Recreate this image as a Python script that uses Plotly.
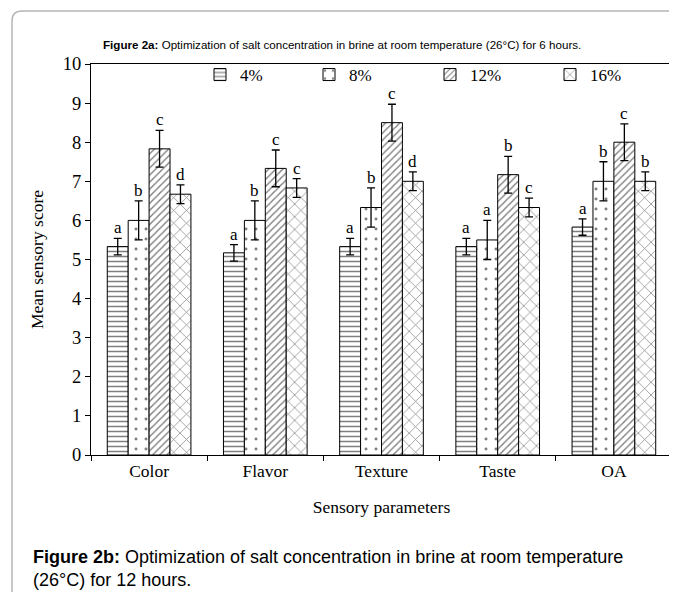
import plotly.graph_objects as go

categories = ["Color", "Flavor", "Texture", "Taste", "OA"]
series_names = ["4%", "8%", "12%", "16%"]
values = {
    "4%": [5.33, 5.17, 5.33, 5.33, 5.83],
    "8%": [6.0, 6.0, 6.33, 5.5, 7.0],
    "12%": [7.83, 7.33, 8.5, 7.17, 8.0],
    "16%": [6.67, 6.83, 7.0, 6.33, 7.0],
}
errors = {
    "4%": [0.21, 0.21, 0.21, 0.21, 0.21],
    "8%": [0.5, 0.5, 0.5, 0.5, 0.5],
    "12%": [0.47, 0.47, 0.47, 0.47, 0.47],
    "16%": [0.24, 0.24, 0.24, 0.24, 0.24],
}
letters = {
    "4%": ["a", "a", "a", "a", "a"],
    "8%": ["b", "b", "b", "a", "b"],
    "12%": ["c", "c", "c", "b", "c"],
    "16%": ["d", "c", "d", "c", "b"],
}
patterns = {
    "4%": dict(shape="-", size=5, solidity=0.3),
    "8%": dict(shape=".", size=10, solidity=0.07),
    "12%": dict(shape="/", size=5, solidity=0.28),
    "16%": dict(shape="x", size=9, solidity=0.15),
}
legend_x_px = [200, 309, 430, 550]

serif = "Liberation Serif"
sans = "Liberation Sans"

# page body has an 8px margin; figure drawn 8px smaller, coordinates relative to plot area
PLOT_L, PLOT_W, PLOT_H = 83, 581, 391
FIG_W, FIG_H = 669, 584

def px_x(px_ref):
    return (px_ref - 91) / PLOT_W

def px_y(py_ref):
    return (455 - py_ref) / PLOT_H

fig = go.Figure()
for k, name in enumerate(series_names):
    p = patterns[name]
    fig.add_trace(go.Bar(
        name=name, x=categories, y=values[name],
        legend="legend" if k == 0 else f"legend{k + 1}",
        marker=dict(color="white", line=dict(color="black", width=1),
                    pattern=dict(shape=p["shape"], size=p["size"], solidity=p["solidity"],
                                 fgcolor="black", bgcolor="white", fillmode="overlay")),
        error_y=dict(type="data", array=errors[name], color="black", thickness=1.3, width=4),
    ))

# letters above error bars
cat_w = PLOT_W / len(categories)
bargap = 0.28
bar_w = cat_w * (1 - bargap) / 4
for j, name in enumerate(series_names):
    shift = (j - 1.5) * bar_w
    for i, c in enumerate(categories):
        fig.add_annotation(x=c, y=values[name][i] + errors[name][i], text=letters[name][i],
                           showarrow=False, xshift=shift, yanchor="bottom", yshift=-1,
                           font=dict(family=serif, size=17, color="black"))

fig.add_annotation(xref="paper", yref="paper", x=px_x(342), y=px_y(44),
                   text="<b>Figure 2a:</b> Optimization of salt concentration in brine at room temperature (26°C) for 6 hours.",
                   showarrow=False, xanchor="center", yanchor="middle",
                   font=dict(family=sans, size=11.6, color="black"))

fig.add_annotation(xref="paper", yref="paper", x=px_x(31), y=px_y(568),
                   text="<b>Figure 2b:</b> Optimization of salt concentration in brine at room temperature<br>(26°C) for 12 hours.",
                   showarrow=False, xanchor="left", yanchor="middle", align="left",
                   font=dict(family=sans, size=18, color="black"))

# frame
x12, x22 = px_x(12), px_x(22)
y11, y21 = px_y(11), px_y(21)
fig.add_shape(type="path", xref="paper", yref="paper",
              path=f"M {x12},-0.5 L {x12},{y21} Q {x12},{y11} {x22},{y11} L 1.3,{y11}",
              line=dict(color="#b5b5b5", width=1.5))

legend_common = dict(orientation="h", y=px_y(57), yanchor="top", xanchor="left",
                     itemwidth=30, font=dict(family=serif, size=17, color="black"),
                     bgcolor="rgba(0,0,0,0)")

fig.update_layout(
    width=FIG_W, height=FIG_H,
    margin=dict(l=PLOT_L, r=FIG_W - PLOT_L - PLOT_W, t=56, b=FIG_H - 56 - PLOT_H),
    paper_bgcolor="white", plot_bgcolor="white",
    barmode="group", bargap=bargap, bargroupgap=0,
    showlegend=True,
    legend=dict(x=px_x(legend_x_px[0]), **legend_common),
    legend2=dict(x=px_x(legend_x_px[1]), **legend_common),
    legend3=dict(x=px_x(legend_x_px[2]), **legend_common),
    legend4=dict(x=px_x(legend_x_px[3]), **legend_common),
    font=dict(family=serif, size=17, color="black"),
    xaxis=dict(showline=True, linecolor="black", linewidth=1, mirror=True,
               ticks="outside", tickson="boundaries", ticklen=5, tickcolor="black",
               tickfont=dict(family=serif, size=17.5, color="black"),
               title=dict(text="Sensory parameters", font=dict(family=serif, size=17.5), standoff=20)),
    yaxis=dict(range=[0, 10], dtick=1, showline=True, linecolor="black", linewidth=1, mirror=True,
               ticks="outside", ticklen=5, tickcolor="black", showgrid=False, zeroline=False,
               tickfont=dict(family=serif, size=18.5, color="black"),
               title=dict(text="Mean sensory score", font=dict(family=serif, size=17.5), standoff=14)),
)

fig.write_html("out.html")
